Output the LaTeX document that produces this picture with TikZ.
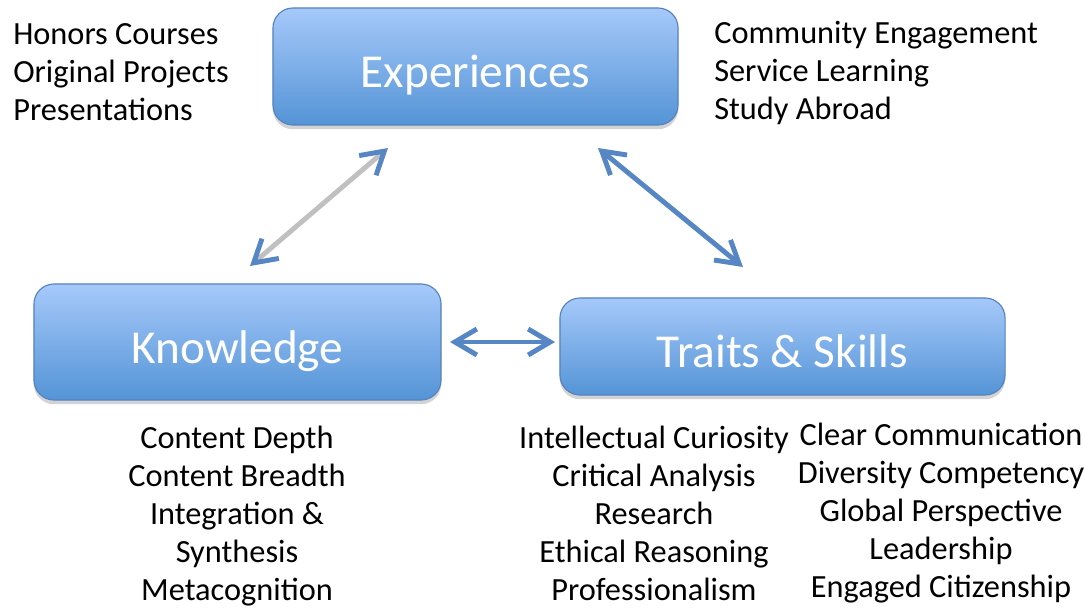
\documentclass[tikz,border=0pt]{standalone}
\usepackage{fontspec}
\setmainfont{Carlito}
\usetikzlibrary{arrows.meta,shadows}
\definecolor{boxtop}{RGB}{166,201,250}
\definecolor{boxbottom}{RGB}{84,148,214}
\definecolor{boxline}{RGB}{84,130,190}
\definecolor{arrowblue}{RGB}{86,134,196}
\definecolor{shaftgray}{RGB}{192,192,192}
\tikzset{
  area/.style={rounded corners=0.5cm, draw=boxline, line width=0.8pt,
    top color=boxtop, bottom color=boxbottom, text=white,
    font=\fontsize{33.6}{40}\selectfont, text height=30.4pt, text depth=0pt,
    drop shadow={opacity=0.35, shadow xshift=0pt, shadow yshift=-3pt}},
  items/.style={align=center, inner sep=0pt, font=\fontsize{23}{27}\selectfont},
  link/.style={line width=3.5pt, arrowblue,
    {Straight Barb[length=5.5mm,width=6.5mm]}-{Straight Barb[length=5.5mm,width=6.5mm]}}
}
\begin{document}
\begin{tikzpicture}[x=0.025cm,y=-0.025cm]
\useasboundingbox (0,0) rectangle (1084,607);
% the three areas
\node[area, minimum width=10.125cm, minimum height=2.925cm] (exp) at (475.5,66.5) {Experiences};
\node[area, minimum width=10.175cm, minimum height=2.9cm] (know) at (237.5,342) {Knowledge};
\node[area, minimum width=11.125cm, minimum height=2.425cm] (trait) at (782.5,346.5) {Traits \& Skills};

% lists
\node[items, anchor=west, align=left] (expleft) at (13,72) {Honors Courses\\Original Projects\\Presentations};
\node[items, anchor=west, align=left] (expright) at (714,73) {Community Engagement\\Service Learning\\Study Abroad};
\node[items] (knowlist) at (237,516) {Content Depth\\Content Breadth\\Integration \&\\Synthesis\\Metacognition};
\node[items] (traitleft) at (654,513) {Intellectual Curiosity\\Critical Analysis\\Research\\Ethical Reasoning\\Professionalism};
\node[items] (traitright) at (941,513) {Clear Communication\\Diversity Competency\\Global Perspective\\Leadership\\Engaged Citizenship};

% arrow ends
\coordinate (expL) at (388,148);
\coordinate (knowU) at (250,266);
\coordinate (expR) at (598,148);
\coordinate (traitU) at (743,267);
\coordinate (knowR) at (450,342);
\coordinate (traitL) at (555,342);

\draw[link, shaftgray, {Straight Barb[length=5.5mm,width=6.5mm,color=arrowblue]}-{Straight Barb[length=5.5mm,width=6.5mm,color=arrowblue]}] (knowU) -- (expL);
\draw[link] (expR) -- (traitU);
\draw[link] (knowR) -- (traitL);
\end{tikzpicture}
\end{document}
